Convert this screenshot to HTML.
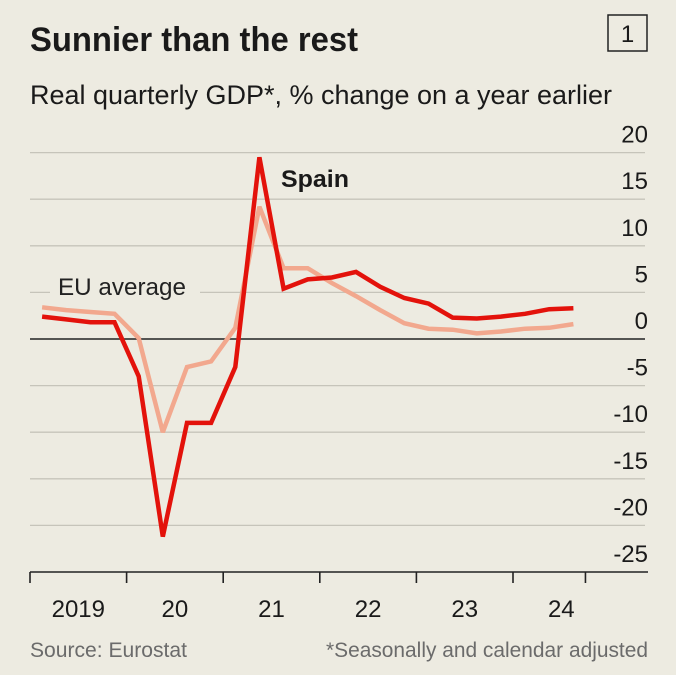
<!DOCTYPE html>
<html><head><meta charset="utf-8"><style>
html,body{margin:0;padding:0;background:#edebe1;}
svg{display:block;font-family:"Liberation Sans Narrow","Liberation Sans",sans-serif;}
</style></head><body>
<svg id="chart" width="676" height="675" viewBox="0 0 676 675" xmlns="http://www.w3.org/2000/svg">
<rect x="0" y="0" width="676" height="675" fill="#edebe1"/>
<text x="30" y="51" font-size="34" font-weight="bold" fill="#1a1a1a" textLength="328" lengthAdjust="spacingAndGlyphs">Sunnier than the rest</text>
<rect x="608" y="15" width="39" height="36" fill="none" stroke="#222" stroke-width="1.5"/>
<text x="627.5" y="42" font-size="24" text-anchor="middle" fill="#1a1a1a">1</text>
<text x="30" y="104" font-size="27" fill="#1a1a1a" textLength="582" lengthAdjust="spacingAndGlyphs">Real quarterly GDP*, % change on a year earlier</text>
<g id="grid"></g>
<g id="xaxis"></g>
<g id="series"></g>
<rect x="50" y="272" width="150" height="28" fill="#edebe1"/>
<text x="58" y="295" font-size="24" fill="#222" textLength="128" lengthAdjust="spacingAndGlyphs">EU average</text>
<text x="281" y="187" font-size="24" font-weight="bold" fill="#1a1a1a" textLength="68" lengthAdjust="spacingAndGlyphs">Spain</text>
<text x="30" y="657" font-size="21" fill="#6b6b6b" textLength="157" lengthAdjust="spacingAndGlyphs">Source: Eurostat</text>
<text x="648" y="657" font-size="21" fill="#6b6b6b" text-anchor="end" textLength="322" lengthAdjust="spacingAndGlyphs">*Seasonally and calendar adjusted</text>
</svg>
<script>
const yTicks = [20, 15, 10, 5, 0, -5, -10, -15, -20, -25];
const yearLabels = ["2019", "20", "21", "22", "23", "24"];
const spain = [2.4, 2.1, 1.8, 1.8, -4.0, -21.2, -9.0, -9.0, -3.0, 19.5, 5.4, 6.4, 6.6, 7.2, 5.6, 4.4, 3.8, 2.3, 2.2, 2.4, 2.7, 3.2, 3.3];
const euAvg = [3.4, 3.1, 2.9, 2.7, 0.1, -10.0, -3.0, -2.4, 1.2, 14.2, 7.6, 7.6, 6.0, 4.6, 3.1, 1.7, 1.1, 1.0, 0.6, 0.8, 1.1, 1.2, 1.6];

const NS = "http://www.w3.org/2000/svg";
const x0 = 30, qW = 24.15, yZero = 339, pxPerUnit = 9.32;
const xScale = i => x0 + (i + 0.5) * qW;
const yScale = v => yZero - v * pxPerUnit;
function mk(tag, attrs, parent) {
  const e = document.createElementNS(NS, tag);
  for (const k in attrs) e.setAttribute(k, attrs[k]);
  parent.appendChild(e);
  return e;
}
const grid = document.getElementById("grid");
yTicks.forEach(v => {
  const y = yScale(v);
  const isZero = v === 0, isBase = v === -25;
  const ln = mk("line", {x1: 30, x2: isBase ? 648 : 645, y1: y, y2: y,
    stroke: (isZero || isBase) ? "#222" : "#c6c4ba", "stroke-width": (isZero || isBase) ? 1.6 : 1.3}, grid);
  
  
  const t = mk("text", {x: 648, y: y - 10, "font-size": 24, "text-anchor": "end", fill: "#1a1a1a"}, grid);
  t.textContent = String(v);
  
  
});
const xa = document.getElementById("xaxis");
const baseY = yScale(-25);
for (let k = 0; k <= yearLabels.length; k++) {
  const q = Math.min(k * 4, spain.length);
  const x = x0 + q * qW;
  const tk = mk("line", {x1: x, x2: x, y1: baseY, y2: baseY + 11, stroke: "#222", "stroke-width": 1.6}, xa);
  
  
}
yearLabels.forEach((lab, k) => {
  const x = x0 + (k * 4 + 2) * qW;
  const t = mk("text", {x: x, y: 617, "font-size": 24, "text-anchor": "middle", fill: "#1a1a1a"}, xa);
  t.textContent = lab;
  
  
});
const sg = document.getElementById("series");
function line(data, color, name) {
  const pts = data.map((v, i) => xScale(i).toFixed(1) + "," + yScale(v).toFixed(1)).join(" ");
  const p = mk("polyline", {points: pts, fill: "none", stroke: color, "stroke-width": 4.5, "stroke-linejoin": "miter", "stroke-miterlimit": 2}, sg);
  
  
}
line(euAvg, "#f2a88e", "eu-average-line");
line(spain, "#e3120b", "spain-line");
</script>
</body></html>
